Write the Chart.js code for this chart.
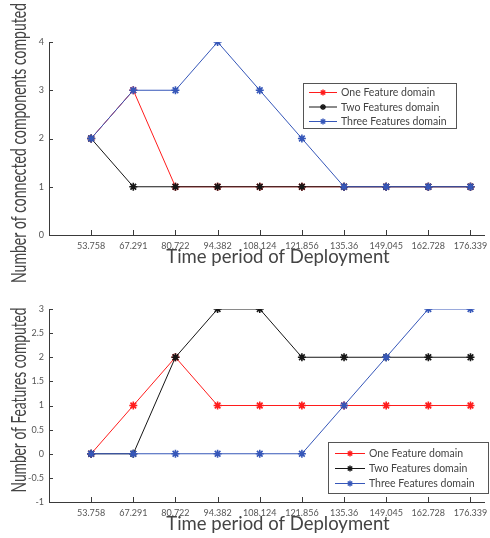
<!DOCTYPE html>
<html>
<head>
<meta charset="utf-8">
<title>Connected components and features over deployment time</title>
<script src="https://cdn.jsdelivr.net/npm/chart.js@4.4.1/dist/chart.umd.min.js"></script>
<style>
  body { margin: 0; background: #fff; }
  #wrap { position: relative; width: 490px; height: 538px; }
  canvas { display: block; position: absolute; left: 0; }
  #components { top: 0; }
  #features { top: 269px; }
</style>
</head>
<body>
<div id="wrap">
  <!-- upper canvas runs a bit past its half so the long y title fits -->
  <canvas id="components" width="490" height="292"></canvas>
  <canvas id="features" width="490" height="269"></canvas>
</div>
<script>
// deployment time stamps used as x tick labels
const timeLabels = ["53.758", "67.291", "80.722", "94.382", "108.124",
                    "121.856", "135.36", "149.045", "162.728", "176.339"];

const seriesNames = ["One Feature domain", "Two Features domain", "Three Features domain"];
const seriesColors = ["#ff1c1c", "#161616", "#3657b9"];

// upper plot: connected components
const componentsOne   = [2, 3, 1, 1, 1, 1, 1, 1, 1, 1];
const componentsTwo   = [2, 1, 1, 1, 1, 1, 1, 1, 1, 1];
const componentsThree = [2, 3, 3, 4, 3, 2, 1, 1, 1, 1];

// lower plot: features
const featuresOne   = [0, 1, 2, 1, 1, 1, 1, 1, 1, 1];
const featuresTwo   = [0, 0, 2, 3, 3, 2, 2, 2, 2, 2];
const featuresThree = [0, 0, 0, 0, 0, 0, 1, 2, 3, 3];

const xTitle = "Time period of Deployment";
const axisColor = "#3a3a3a";
const textColor = "#444";
const plotHeight = 193;

function toPoints(values) {
    return values.map(function (v, i) { return { x: i, y: v }; });
}

function makeDatasets(lists) {
    return lists.map(function (values, i) {
        return {
            label: seriesNames[i],
            data: toPoints(values),
            borderColor: seriesColors[i],
            backgroundColor: seriesColors[i],
            borderWidth: 1,
            pointStyle: "star",
            pointRadius: 4,
            pointBorderWidth: 1.6,
            pointBorderColor: seriesColors[i],
            tension: 0,
            order: 2 - i   // blue drawn last, on top
        };
    });
}

// inward ticks, axis titles and the boxed legend
const decorPlugin = {
    id: "decor",
    afterDraw: function (chart, args, opts) {
        const ctx = chart.ctx;
        const area = chart.chartArea;
        const xs = chart.scales.x;
        const ys = chart.scales.y;
        const h = Chart.helpers;

        ctx.save();
        ctx.strokeStyle = axisColor;
        ctx.lineWidth = 1;
        ctx.beginPath();
        xs.ticks.forEach(function (t) {
            const px = Math.round(xs.getPixelForValue(t.value)) + 0.5;
            ctx.moveTo(px, area.bottom);
            ctx.lineTo(px, area.bottom - 5);
        });
        ys.ticks.forEach(function (t) {
            const py = Math.round(ys.getPixelForValue(t.value)) + 0.5;
            ctx.moveTo(area.left, py);
            ctx.lineTo(area.left + 4, py);
        });
        ctx.stroke();

        // x title
        ctx.fillStyle = textColor;
        ctx.font = "18.5px Lato";
        ctx.textAlign = "center";
        ctx.textBaseline = "alphabetic";
        ctx.fillText(xTitle, 278, area.bottom + 28);

        // y title, narrow lettering squeezed to its length
        ctx.font = "22px Lato";
        const w = ctx.measureText(opts.yTitle).width;
        ctx.save();
        ctx.translate(26, opts.yTitleCenter);
        ctx.rotate(-Math.PI / 2);
        ctx.scale(opts.yTitleLength / w, 1);
        ctx.fillText(opts.yTitle, 0, 0);
        ctx.restore();

        // legend
        const lg = opts.legend;
        ctx.fillStyle = "#fff";
        ctx.fillRect(lg.left, lg.top, lg.width, lg.height);
        ctx.strokeStyle = "#555";
        ctx.strokeRect(lg.left + 0.5, lg.top + 0.5, lg.width, lg.height);
        ctx.font = "10.5px Lato";
        ctx.textAlign = "left";
        ctx.textBaseline = "middle";
        chart.data.datasets.forEach(function (ds, i) {
            const y = lg.top + lg.firstRow + i * lg.rowGap;
            const x0 = lg.left + lg.lineStart;
            ctx.strokeStyle = ds.borderColor;
            ctx.lineWidth = 1;
            ctx.beginPath();
            ctx.moveTo(x0, y + 0.5);
            ctx.lineTo(x0 + lg.lineLength, y + 0.5);
            ctx.stroke();
            ctx.lineWidth = 1.4;
            h.drawPoint(ctx, { pointStyle: "star", radius: 3, rotation: 0, borderWidth: 1.4 },
                        x0 + lg.lineLength / 2, y + 0.5);
            ctx.fillStyle = textColor;
            ctx.fillText(ds.label, x0 + lg.lineLength + 4, y + 1);
        });
        ctx.restore();
    }
};

function buildChart(id, lists, yMin, yMax, yStep, areaTop, decor) {
    const canvas = document.getElementById(id);
    const xHeight = canvas.height - areaTop - plotHeight;
    return new Chart(canvas, {
        type: "line",
        data: { datasets: makeDatasets(lists) },
        plugins: [decorPlugin],
        options: {
            responsive: false,
            animation: false,
            devicePixelRatio: 1,
            layout: { padding: { top: areaTop, left: 0, right: 0, bottom: 0 } },
            plugins: {
                legend: { display: false },
                tooltip: { enabled: false },
                decor: decor
            },
            scales: {
                x: {
                    type: "linear",
                    min: -1,
                    max: 9.33,
                    afterBuildTicks: function (scale) {
                        scale.ticks = timeLabels.map(function (_, i) { return { value: i }; });
                    },
                    afterFit: function (scale) {
                        scale.height = xHeight;
                        scale.paddingLeft = 0;
                        scale.paddingRight = 0;
                    },
                    grid: { display: false, drawTicks: false },
                    border: { display: true, color: axisColor, width: 1 },
                    ticks: {
                        autoSkip: false,
                        maxRotation: 0,
                        padding: 6,
                        color: "#555",
                        font: { family: "Lato", size: 9 },
                        callback: function (v) { return timeLabels[v]; }
                    }
                },
                y: {
                    min: yMin,
                    max: yMax,
                    afterFit: function (scale) {
                        scale.width = 49;
                        scale.paddingTop = 0;
                        scale.paddingBottom = 0;
                    },
                    grid: { display: false, drawTicks: false },
                    border: { display: true, color: axisColor, width: 1 },
                    ticks: {
                        stepSize: yStep,
                        padding: 5,
                        color: "#555",
                        font: { family: "Lato", size: 9 },
                        callback: function (v) { return String(v); }
                    }
                }
            }
        }
    });
}

buildChart("components", [componentsOne, componentsTwo, componentsThree], 0, 4, 1, 42, {
    yTitle: "Number of connected components computed",
    yTitleCenter: 143,
    yTitleLength: 280,
    legend: { left: 303, top: 83, width: 153, height: 45, lineStart: 6, lineLength: 28, firstRow: 9, rowGap: 14.5 }
});

buildChart("features", [featuresOne, featuresTwo, featuresThree], -1, 3, 0.5, 40, {
    yTitle: "Number of Features computed",
    yTitleCenter: 131,
    yTitleLength: 185,
    legend: { left: 328, top: 173, width: 160, height: 51, lineStart: 7, lineLength: 30, firstRow: 11, rowGap: 15 }
});
</script>
</body>
</html>
